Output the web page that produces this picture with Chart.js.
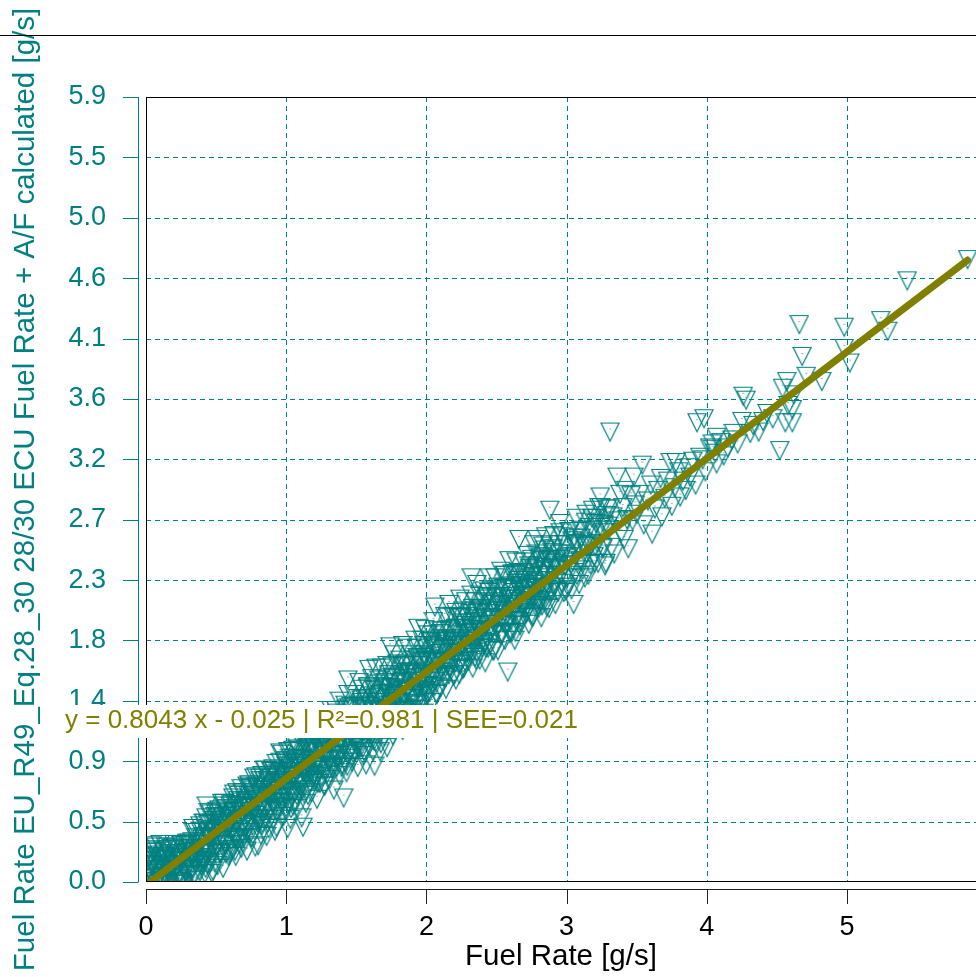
<!DOCTYPE html>
<html>
<head>
<meta charset="utf-8">
<script src="https://cdn.jsdelivr.net/npm/chart.js@4.4.1/dist/chart.umd.min.js"></script>
<style>
  html, body { margin: 0; padding: 0; background: #fff; }
  #wrap { width: 976px; height: 977px; }
</style>
</head>
<body>
<div id="wrap"><canvas id="fuel" width="976" height="977"></canvas></div>
<script>
// Reference fuel rate (x) vs calculated fuel rate (y), in g/s
const lowX = [
  0.00,0.01,0.01,0.02,0.02,0.03,0.03,0.04,0.04,0.05,
  0.05,0.06,0.06,0.07,0.07,0.08,0.09,0.09,0.10,0.10,
  0.11,0.12,0.12,0.13,0.14,0.14,0.15,0.16,0.16,0.17,
  0.18,0.18,0.19,0.20,0.20,0.21,0.22,0.22,0.23,0.24,
  0.25,0.25,0.26,0.27,0.27,0.28,0.29,0.30,0.30,0.31,
  0.32,0.33,0.33,0.34,0.35,0.36,0.37,0.38,0.39,0.40,
  0.005,0.02,0.035,0.05,0.065,0.08,0.095,0.11,0.125,0.14,
  0.155,0.17,0.185,0.20,0.215,0.23,0.245,0.26,0.275,0.29
];
const lowY = [
  0.02,0.18,0.08,0.27,0.12,0.03,0.22,0.15,0.30,0.06,
  0.25,0.11,0.19,0.01,0.29,0.14,0.07,0.23,0.17,0.31,
  0.04,0.26,0.12,0.20,0.09,0.29,0.16,0.02,0.24,0.13,
  0.28,0.06,0.19,0.11,0.31,0.23,0.03,0.15,0.27,0.09,
  0.20,0.30,0.05,0.14,0.25,0.10,0.32,0.18,0.07,0.28,
  0.22,0.13,0.33,0.08,0.26,0.17,0.31,0.11,0.24,0.20,
  0.10,0.21,0.05,0.16,0.26,0.09,0.20,0.13,0.04,0.22,
  0.27,0.11,0.06,0.18,0.24,0.16,0.21,0.02,0.12,0.23
];

const bandX = [
  0.40,0.41,0.41,0.42,0.42,0.43,0.43,0.44,0.44,0.45,0.46,0.46,0.47,0.47,0.48,0.48,0.49,0.49,
  0.50,0.51,0.51,0.52,0.52,0.53,0.53,0.54,0.54,0.55,0.56,0.56,0.57,0.57,0.58,0.58,0.59,0.59,
  0.60,0.61,0.61,0.62,0.62,0.63,0.63,0.64,0.64,0.65,0.66,0.66,0.67,0.67,0.68,0.68,0.69,0.69,
  0.70,0.71,0.71,0.72,0.72,0.73,0.73,0.74,0.74,0.75,0.76,0.76,0.77,0.77,0.78,0.78,0.79,0.79,
  0.80,0.81,0.81,0.82,0.82,0.83,0.83,0.84,0.84,0.85,0.86,0.86,0.87,0.87,0.88,0.88,0.89,0.89,
  0.90,0.91,0.91,0.92,0.92,0.93,0.93,0.94,0.94,0.95,0.96,0.96,0.97,0.97,0.98,0.98,0.99,0.99,
  1.00,1.01,1.01,1.02,1.02,1.03,1.03,1.04,1.04,1.05,1.06,1.06,1.07,1.07,1.08,1.08,1.09,1.09,
  1.10,1.11,1.11,1.12,1.12,1.13,1.13,1.14,1.14,1.15,1.16,1.16,1.17,1.17,1.18,1.18,1.19,1.19,
  1.20,1.21,1.21,1.22,1.22,1.23,1.23,1.24,1.24,1.25,1.26,1.26,1.27,1.27,1.28,1.28,1.29,1.29,
  1.30,1.31,1.31,1.32,1.32,1.33,1.33,1.34,1.34,1.35,1.36,1.36,1.37,1.37,1.38,1.38,1.39,1.39,
  1.40,1.41,1.41,1.42,1.42,1.43,1.43,1.44,1.44,1.45,1.46,1.46,1.47,1.47,1.48,1.48,1.49,1.49,
  1.50,1.51,1.51,1.52,1.52,1.53,1.53,1.54,1.54,1.55,1.56,1.56,1.57,1.57,1.58,1.58,1.59,1.59,
  1.60,1.61,1.61,1.62,1.62,1.63,1.63,1.64,1.64,1.65,1.66,1.66,1.67,1.67,1.68,1.68,1.69,1.69,
  1.70,1.71,1.71,1.72,1.72,1.73,1.73,1.74,1.74,1.75,1.76,1.76,1.77,1.77,1.78,1.78,1.79,1.79,
  1.80,1.81,1.81,1.82,1.82,1.83,1.83,1.84,1.84,1.85,1.86,1.86,1.87,1.87,1.88,1.88,1.89,1.89,
  1.90,1.91,1.91,1.92,1.92,1.93,1.93,1.94,1.94,1.95,1.96,1.96,1.97,1.97,1.98,1.98,1.99,1.99
];
const bandY = [
  0.35,0.19,0.47,0.28,0.09,0.42,0.24,0.46,0.16,0.35,0.54,0.21,0.42,0.09,0.39,0.30,0.52,0.17,
  0.29,0.51,0.15,0.43,0.57,0.25,0.48,0.37,0.62,0.13,0.45,0.32,0.58,0.24,0.50,0.43,0.55,0.22,
  0.60,0.41,0.50,0.27,0.66,0.36,0.56,0.22,0.60,0.48,0.68,0.35,0.56,0.42,0.73,0.28,0.53,0.40,
  0.36,0.62,0.50,0.75,0.26,0.68,0.46,0.59,0.73,0.36,0.68,0.45,0.81,0.56,0.29,0.65,0.74,0.53,
  0.72,0.50,0.81,0.59,0.38,0.70,0.47,0.79,0.57,0.87,0.37,0.68,0.78,0.47,0.72,0.57,0.86,0.67,
  0.63,0.86,0.50,0.77,0.60,0.92,0.44,0.82,0.71,0.87,0.59,0.78,0.67,0.99,0.52,0.83,0.94,0.72,
  0.90,0.75,1.01,0.62,0.86,0.50,0.96,0.71,0.82,0.60,1.08,0.70,0.93,0.78,1.03,0.58,0.88,0.70,
  0.75,0.95,0.51,1.06,0.86,1.12,0.69,0.94,0.62,1.03,0.84,1.11,0.78,0.94,0.70,1.03,1.20,0.89,
  1.00,0.80,1.16,0.91,0.65,1.10,0.87,1.23,0.77,1.01,1.16,0.87,1.09,0.75,1.29,0.98,1.13,0.84,
  0.94,1.22,0.80,1.08,1.32,0.90,1.14,0.72,1.20,1.03,1.30,0.89,1.15,0.98,1.39,0.83,1.10,1.22,
  1.26,1.04,0.66,1.36,0.93,1.22,0.85,1.44,1.12,1.27,1.02,1.35,0.93,1.21,1.12,1.44,1.01,1.27,
  1.06,1.41,0.89,1.27,1.53,1.04,1.33,1.15,1.48,0.98,1.25,1.41,1.14,0.91,1.50,1.23,1.63,1.05,
  1.35,1.13,1.56,1.01,1.31,1.48,1.21,1.64,1.08,1.42,1.28,1.55,1.01,1.38,1.18,1.64,1.33,1.23,
  1.12,1.49,1.30,1.66,1.04,1.45,1.59,1.24,1.80,1.36,1.56,1.13,1.44,1.74,1.24,1.52,1.33,1.67,
  1.47,1.25,1.70,1.38,1.59,1.17,1.81,1.34,1.54,1.67,1.24,1.48,1.79,1.33,1.61,1.46,1.74,1.30,
  1.41,1.70,1.26,1.85,1.59,1.37,1.79,1.50,1.94,1.33,1.68,1.43,1.85,1.58,1.30,1.74,1.51,1.93
];

// second pass over the dense core, between the first set of samples
const coreX = [
  0.305,0.315,0.325,0.335,0.345,0.355,0.365,0.375,0.385,0.395,
  0.405,0.415,0.425,0.435,0.445,0.455,0.465,0.475,0.485,0.495,
  0.505,0.515,0.525,0.535,0.545,0.555,0.565,0.575,0.585,0.595,
  0.605,0.615,0.625,0.635,0.645,0.655,0.665,0.675,0.685,0.695,
  0.705,0.715,0.725,0.735,0.745,0.755,0.765,0.775,0.785,0.795,
  0.805,0.815,0.825,0.835,0.845,0.855,0.865,0.875,0.885,0.895,
  0.905,0.915,0.925,0.935,0.945,0.955,0.965,0.975,0.985,0.995,
  1.005,1.015,1.025,1.035,1.045,1.055,1.065,1.075,1.085,1.095,
  1.105,1.115,1.125,1.135,1.145,1.155,1.165,1.175,1.185,1.195,
  1.205,1.215,1.225,1.235,1.245,1.255,1.265,1.275,1.285,1.295,
  1.305,1.315,1.325,1.335,1.345,1.355,1.365,1.375,1.385,1.395,
  1.405,1.415,1.425,1.435,1.445,1.455,1.465,1.475,1.485,1.495,
  1.505,1.515,1.525,1.535,1.545,1.555,1.565,1.575,1.585,1.595,
  1.605,1.615,1.625,1.635,1.645,1.655,1.665,1.675,1.685,1.695,
  1.705,1.715,1.725,1.735,1.745,1.755,1.765,1.775,1.785,1.795,
  1.805,1.815,1.825,1.835,1.845,1.855,1.865,1.875,1.885,1.895,
  1.905,1.915,1.925,1.935,1.945,1.955,1.965,1.975,1.985,1.995,
  2.005,2.015,2.025,2.035,2.045,2.055,2.065,2.075,2.085,2.095,
  2.105,2.115,2.125,2.135,2.145,2.155,2.165,2.175,2.185,2.195,
  2.205,2.215,2.225,2.235,2.245,2.255,2.265,2.275,2.285,2.295,
  2.305,2.315,2.325,2.335,2.345,2.355,2.365,2.375,2.385,2.395,
  2.405,2.415,2.425,2.435,2.445,2.455,2.465,2.475,2.485,2.495,
  2.505,2.515,2.525,2.535,2.545,2.555,2.565,2.575,2.585,2.595,
  2.605,2.615,2.625,2.635,2.645,2.655,2.665,2.675,2.685,2.695,
  2.705,2.715,2.725,2.735,2.745,2.755,2.765,2.775,2.785,2.795,
  2.805,2.815,2.825,2.835,2.845,2.855,2.865,2.875,2.885,2.895,
  2.905,2.915,2.925,2.935,2.945,2.955,2.965,2.975,2.985,2.995,
  3.005,3.015,3.025,3.035,3.045,3.055,3.065,3.075,3.085,3.095,
  3.105,3.115,3.125,3.135,3.145,3.155,3.165,3.175,3.185,3.195,
  3.205,3.215,3.225,3.235,3.245,3.255,3.265,3.275,3.285,3.295
];
const coreY = [
  0.32,0.08,0.26,0.43,0.19,0.04,0.40,0.28,0.45,0.18,
  0.26,0.47,0.13,0.40,0.55,0.25,0.36,0.11,0.49,0.41,
  0.56,0.31,0.45,0.24,0.52,0.62,0.30,0.52,0.43,0.24,
  0.34,0.50,0.69,0.26,0.46,0.64,0.60,0.36,0.70,0.47,
  0.64,0.40,0.58,0.76,0.51,0.36,0.72,0.59,0.82,0.50,
  0.58,0.79,0.45,0.72,0.87,0.57,0.68,0.43,0.81,0.73,
  0.88,0.63,0.77,0.56,0.85,1.00,0.62,0.84,0.75,0.57,
  0.66,0.82,1.01,0.58,0.79,0.96,0.92,0.68,1.02,0.80,
  0.96,0.72,0.90,1.08,0.84,0.68,1.04,0.91,1.17,0.83,
  0.90,1.11,0.77,1.04,1.20,0.89,1.00,0.75,1.13,1.06,
  1.20,0.95,1.09,0.88,1.17,1.32,0.94,1.16,1.07,0.89,
  0.99,1.14,1.33,0.90,1.11,1.29,1.24,1.00,1.34,1.12,
  1.29,1.04,1.22,1.40,1.16,1.01,1.36,1.23,1.49,1.15,
  1.23,1.43,1.09,1.36,1.52,1.22,1.32,1.07,1.45,1.38,
  1.53,1.27,1.41,1.20,1.49,1.65,1.26,1.48,1.39,1.21,
  1.31,1.46,1.65,1.22,1.43,1.61,1.56,1.32,1.66,1.44,
  1.61,1.37,1.54,1.72,1.48,1.33,1.69,1.55,1.81,1.47,
  1.60,1.81,1.46,1.73,1.89,1.59,1.70,1.44,1.82,1.75,
  1.90,1.65,1.78,1.57,1.86,2.02,1.64,1.85,1.76,1.58,
  1.68,1.84,2.02,1.59,1.80,1.98,1.94,1.69,2.03,1.81,
  1.98,1.74,1.91,2.09,1.85,1.70,2.06,1.92,2.18,1.84,
  1.92,2.13,1.79,2.05,2.21,1.91,2.02,1.77,2.14,2.07,
  2.22,1.97,2.11,1.89,2.18,2.34,1.96,2.18,2.08,1.90,
  2.00,2.16,2.35,1.91,2.12,2.30,2.26,2.02,2.35,2.13,
  2.30,2.06,2.24,2.41,2.17,2.02,2.38,2.25,2.50,2.16,
  2.24,2.45,2.11,2.37,2.53,2.23,2.34,2.09,2.46,2.39,
  2.54,2.29,2.43,2.22,2.50,2.66,2.28,2.50,2.41,2.22,
  2.32,2.48,2.67,2.23,2.44,2.62,2.58,2.34,2.67,2.45,
  2.62,2.38,2.56,2.74,2.50,2.34,2.70,2.57,2.83,2.48,
  2.56,2.77,2.43,2.70,2.85,2.55,2.66,2.41,2.79,2.71
];

// third pass, tight around the trend where the cloud is solid
const denseX = [
  0.108,0.118,0.128,0.138,0.148,0.158,0.168,0.178,0.188,0.198,
  0.208,0.218,0.228,0.238,0.248,0.258,0.268,0.278,0.288,0.298,
  0.308,0.318,0.328,0.338,0.348,0.358,0.368,0.378,0.388,0.398,
  0.408,0.418,0.428,0.438,0.448,0.458,0.468,0.478,0.488,0.498,
  0.508,0.518,0.528,0.538,0.548,0.558,0.568,0.578,0.588,0.598,
  0.608,0.618,0.628,0.638,0.648,0.658,0.668,0.678,0.688,0.698,
  0.708,0.718,0.728,0.738,0.748,0.758,0.768,0.778,0.788,0.798,
  0.808,0.818,0.828,0.838,0.848,0.858,0.868,0.878,0.888,0.898,
  0.908,0.918,0.928,0.938,0.948,0.958,0.968,0.978,0.988,0.998,
  1.008,1.018,1.028,1.038,1.048,1.058,1.068,1.078,1.088,1.098,
  1.108,1.118,1.128,1.138,1.148,1.158,1.168,1.178,1.188,1.198,
  1.208,1.218,1.228,1.238,1.248,1.258,1.268,1.278,1.288,1.298,
  1.308,1.318,1.328,1.338,1.348,1.358,1.368,1.378,1.388,1.398,
  1.408,1.418,1.428,1.438,1.448,1.458,1.468,1.478,1.488,1.498,
  1.508,1.518,1.528,1.538,1.548,1.558,1.568,1.578,1.588,1.598,
  1.608,1.618,1.628,1.638,1.648,1.658,1.668,1.678,1.688,1.698,
  1.708,1.718,1.728,1.738,1.748,1.758,1.768,1.778,1.788,1.798,
  1.808,1.818,1.828,1.838,1.848,1.858,1.868,1.878,1.888,1.898,
  1.908,1.918,1.928,1.938,1.948,1.958,1.968,1.978,1.988,1.998,
  2.008,2.018,2.028,2.038,2.048,2.058,2.068,2.078,2.088,2.098,
  2.108,2.118,2.128,2.138,2.148,2.158,2.168,2.178,2.188,2.198,
  2.208,2.218,2.228,2.238,2.248,2.258,2.268,2.278,2.288,2.298,
  2.308,2.318,2.328,2.338,2.348,2.358,2.368,2.378,2.388,2.398,
  2.408,2.418,2.428,2.438,2.448,2.458,2.468,2.478,2.488,2.498,
  2.508,2.518,2.528,2.538,2.548,2.558,2.568,2.578,2.588,2.598,
  2.608,2.618,2.628,2.638,2.648,2.658,2.668,2.678,2.688,2.698,
  2.708,2.718,2.728,2.738,2.748,2.758,2.768,2.778,2.788,2.798,
  2.808,2.818,2.828,2.838,2.848,2.858,2.868,2.878,2.888,2.898
];
const denseY = [
  0.05,0.20,0.02,0.15,0.03,0.27,0.08,0.21,0.14,0.01,
  0.29,0.10,0.24,0.03,0.31,0.19,0.01,0.30,0.11,0.25,
  0.12,0.28,0.21,0.40,0.08,0.36,0.27,0.21,0.41,0.15,
  0.37,0.18,0.51,0.27,0.37,0.17,0.47,0.35,0.26,0.54,
  0.36,0.52,0.24,0.47,0.34,0.60,0.31,0.53,0.47,0.27,
  0.61,0.42,0.56,0.35,0.70,0.49,0.31,0.63,0.44,0.58,
  0.44,0.60,0.53,0.74,0.40,0.68,0.60,0.53,0.75,0.47,
  0.70,0.50,0.83,0.59,0.69,0.50,0.79,0.67,0.58,0.86,
  0.69,0.84,0.56,0.79,0.66,0.93,0.63,0.85,0.79,0.59,
  0.94,0.74,0.88,0.67,1.02,0.82,0.63,0.95,0.76,0.90,
  0.77,0.92,0.85,1.06,0.72,1.01,0.92,0.85,1.07,0.79,
  1.02,0.82,1.15,0.91,1.01,0.82,1.11,0.99,0.90,1.18,
  1.01,1.17,0.88,1.11,0.98,1.25,0.96,1.17,1.11,0.91,
  1.26,1.07,1.20,0.99,1.34,1.14,0.96,1.27,1.08,1.22,
  1.09,1.25,1.17,1.38,1.04,1.33,1.25,1.17,1.39,1.11,
  1.34,1.15,1.47,1.23,1.33,1.14,1.44,1.31,1.22,1.50,
  1.33,1.49,1.20,1.43,1.30,1.57,1.28,1.49,1.43,1.23,
  1.58,1.39,1.53,1.31,1.66,1.46,1.28,1.60,1.40,1.54,
  1.41,1.57,1.49,1.71,1.36,1.66,1.57,1.50,1.72,1.43,
  1.70,1.51,1.84,1.59,1.69,1.50,1.80,1.68,1.58,1.86,
  1.69,1.85,1.57,1.79,1.66,1.93,1.64,1.86,1.79,1.59,
  1.94,1.75,1.89,1.67,2.02,1.82,1.64,1.96,1.76,1.90,
  1.77,1.93,1.86,2.07,1.72,2.01,1.93,1.86,2.08,1.79,
  2.02,1.83,2.16,1.92,2.01,1.82,2.12,2.00,1.91,2.18,
  2.01,2.17,1.89,2.12,1.98,2.25,1.96,2.18,2.12,1.91,
  2.26,2.07,2.21,2.00,2.34,2.14,1.96,2.28,2.09,2.22,
  2.09,2.25,2.18,2.39,2.04,2.33,2.25,2.18,2.40,2.11,
  2.34,2.15,2.48,2.24,2.34,2.14,2.44,2.32,2.23,2.51
];

const midX = [
  2.00,2.01,2.01,2.02,2.03,2.04,2.04,2.05,2.06,2.06,2.07,2.08,2.09,2.09,
  2.10,2.11,2.11,2.12,2.13,2.14,2.14,2.15,2.16,2.16,2.17,2.18,2.19,2.19,
  2.20,2.21,2.21,2.22,2.23,2.24,2.24,2.25,2.26,2.26,2.27,2.28,2.29,2.29,
  2.30,2.31,2.31,2.32,2.33,2.34,2.34,2.35,2.36,2.36,2.37,2.38,2.39,2.39,
  2.40,2.41,2.41,2.42,2.43,2.44,2.44,2.45,2.46,2.46,2.47,2.48,2.49,2.49,
  2.50,2.51,2.51,2.52,2.53,2.54,2.54,2.55,2.56,2.56,2.57,2.58,2.59,2.59,
  2.60,2.61,2.61,2.62,2.63,2.64,2.64,2.65,2.66,2.66,2.67,2.68,2.69,2.69,
  2.70,2.71,2.71,2.72,2.73,2.74,2.74,2.75,2.76,2.76,2.77,2.78,2.79,2.79,
  2.80,2.81,2.81,2.82,2.83,2.84,2.84,2.85,2.86,2.86,2.87,2.88,2.89,2.89,
  2.90,2.91,2.91,2.92,2.93,2.94,2.94,2.95,2.96,2.96,2.97,2.98,2.99,2.99
];
const midY = [
  1.70,1.45,1.89,1.58,1.83,1.38,1.68,1.99,1.54,1.79,1.45,1.92,1.67,1.61,
  1.49,1.92,1.71,1.61,2.03,1.48,1.84,1.70,2.12,1.59,1.92,1.70,2.03,1.83,
  1.81,1.55,2.06,1.94,1.67,2.16,1.76,2.02,2.07,1.63,1.91,2.14,1.75,1.84,
  1.69,2.05,1.88,2.19,1.64,1.99,1.82,2.14,1.76,2.27,1.96,1.70,2.09,1.91,
  2.07,1.83,2.22,1.68,1.97,2.17,1.79,2.32,2.05,1.92,2.23,1.77,2.12,2.32,
  1.94,2.25,1.77,2.12,2.37,1.90,2.07,2.24,1.85,2.34,2.04,1.97,2.23,2.45,
  2.16,1.91,2.35,2.10,1.85,2.28,2.44,2.04,2.23,2.36,1.99,2.19,2.44,2.12,
  2.36,2.05,2.19,2.49,1.97,2.32,2.15,2.46,2.27,2.03,2.57,2.22,2.41,2.13,
  2.09,2.47,2.30,2.02,2.56,2.38,2.21,2.63,2.10,2.45,2.30,2.57,2.21,2.40,
  2.46,2.25,2.64,2.12,2.38,2.57,2.21,2.73,2.46,2.34,2.63,2.21,2.57,2.41
];

const upperX = [
  3.00,3.01,3.02,3.03,3.04,3.06,3.07,3.08,3.09,
  3.10,3.11,3.12,3.13,3.14,3.16,3.17,3.18,3.19,
  3.20,3.21,3.22,3.23,3.24,3.26,3.27,3.28,3.29,
  3.30,3.31,3.32,3.33,3.34,3.36,3.37,3.38,3.39,
  3.40,3.41,3.42,3.43,3.44,3.46,3.47,3.48,3.49
];
const upperY = [
  2.47,2.25,2.67,2.42,2.60,2.36,2.77,2.57,2.27,
  2.68,2.44,2.59,2.32,2.80,2.56,2.42,2.77,2.68,
  2.43,2.73,2.58,2.85,2.93,2.54,2.72,2.43,2.84,
  2.68,2.84,2.55,2.78,2.50,3.08,2.75,2.95,2.66,
  2.85,2.61,2.98,2.76,2.54,2.94,2.75,3.08,2.87
];

const highX = [
  3.50,3.52,3.54,3.55,3.58,3.60,3.61,3.63,3.65,3.67,
  3.68,3.70,3.72,3.74,3.75,3.77,3.78,3.80,3.81,3.83,
  3.85,3.87,3.88,3.90,3.92,3.93,3.95,3.97,3.98,3.99,
  4.02,4.04,4.04,4.06,4.07,4.07,4.10,4.12,4.15,4.18,
  4.19,4.22,4.25,4.26,4.28,4.31,4.33,4.37,4.40,4.43,
  4.47,4.52,4.54,4.56,4.57,4.58,4.61,4.61,4.62,4.66,
  4.68,4.71,4.82,4.98,4.98,5.02,5.24,5.29,5.43,5.86
];
const highY = [
  2.80,2.95,3.17,2.72,2.90,3.02,2.65,2.84,2.98,3.07,
  2.78,2.92,3.05,3.19,2.86,3.00,3.19,3.12,2.93,3.05,
  2.98,3.15,3.08,3.20,3.02,3.49,3.23,3.21,3.52,3.12,
  3.30,3.29,3.33,3.26,3.38,3.18,3.34,3.24,3.30,3.36,
  3.41,3.33,3.50,3.69,3.66,3.41,3.47,3.42,3.50,3.56,
  3.52,3.28,3.75,3.49,3.80,3.62,3.59,3.49,3.70,4.23,
  3.99,3.84,3.80,4.21,4.05,3.94,4.26,4.18,4.56,4.72
];

const strayX = [0.43,1.44,1.01,1.12,1.63,0.80,0.92,2.58,3.05,2.32,2.66,2.79,2.88,2.06,3.31];
const strayY = [0.60,1.55,0.43,0.44,0.90,0.30,0.41,1.61,2.12,2.32,2.61,2.61,2.83,2.10,3.42];

// least squares line end points
const fitX = [0.03, 5.86];
const fitY = [0.00, 4.69];
const fitLabel = "y = 0.8043 x - 0.025 | R\u00b2=0.981 | SEE=0.021";

const xTicks = [0, 1, 2, 3, 4, 5];
const yTickValues = [0, 0.455, 0.911, 1.366, 1.822, 2.277, 2.732, 3.188, 3.643, 4.098, 4.554, 5.009, 5.465, 5.92];
const yTickLabels = ["0.0", "0.5", "0.9", "1.4", "1.8", "2.3", "2.7", "3.2", "3.6", "4.1", "4.6", "5.0", "5.5", "5.9"];
const X_MAX = 5.92;
const Y_MAX = 5.92;

const TEAL = "#008080";
const OLIVE = "#808000";
const FONT = "'Liberation Sans', Arial, sans-serif";

function pairs(xs, ys) {
    return xs.map((x, i) => ({ x: x, y: ys[i] }));
}

const scatterData = [].concat(
    pairs(lowX, lowY),
    pairs(bandX, bandY),
    pairs(coreX, coreY),
    pairs(denseX, denseY),
    pairs(midX, midY),
    pairs(upperX, upperY),
    pairs(highX, highY),
    pairs(strayX, strayY)
);

// hollow down triangle, data point at its centroid, with a dot in the middle
function makeMarker() {
    const c = document.createElement("canvas");
    c.width = 20;
    c.height = 38;
    const g = c.getContext("2d");
    g.strokeStyle = TEAL;
    g.lineWidth = 1.2;
    g.beginPath();
    g.moveTo(1, 13.5);
    g.lineTo(19, 13.5);
    g.lineTo(10, 31.5);
    g.closePath();
    g.stroke();
    g.fillStyle = TEAL;
    g.fillRect(9.5, 19, 1, 1);
    return c;
}

const frame = {
    id: "frame",
    beforeDatasetsDraw(chart) {
        const { ctx, chartArea: a, scales } = chart;
        ctx.save();
        ctx.strokeStyle = TEAL;
        ctx.lineWidth = 1;
        ctx.setLineDash([5, 4]);
        ctx.beginPath();
        scales.x.ticks.forEach(t => {
            if (t.value === 0) return;
            const px = Math.round(scales.x.getPixelForValue(t.value)) + 0.5;
            ctx.moveTo(px, a.top);
            ctx.lineTo(px, a.bottom);
        });
        scales.y.ticks.forEach((t, i) => {
            if (i === 0 || i === scales.y.ticks.length - 1) return;
            const py = Math.round(scales.y.getPixelForValue(t.value)) + 0.5;
            ctx.moveTo(a.left, py);
            ctx.lineTo(a.right, py);
        });
        ctx.stroke();
        ctx.restore();
    },
    afterDraw(chart) {
        const { ctx, chartArea: a, scales } = chart;
        ctx.save();
        ctx.lineWidth = 1;

        // plot box
        ctx.strokeStyle = "#000";
        ctx.strokeRect(a.left + 0.5, a.top + 0.5, a.right - a.left, a.bottom - a.top - 1);

        // rule under the empty title area
        ctx.beginPath();
        ctx.moveTo(0, 35.5);
        ctx.lineTo(chart.width, 35.5);
        ctx.stroke();

        // detached y axis
        ctx.strokeStyle = TEAL;
        ctx.beginPath();
        const ax = a.left - 7.5;
        ctx.moveTo(ax, a.top);
        ctx.lineTo(ax, a.bottom);
        scales.y.ticks.forEach(t => {
            const py = Math.round(scales.y.getPixelForValue(t.value)) + 0.5;
            ctx.moveTo(a.left - 23, py);
            ctx.lineTo(ax, py);
        });
        ctx.stroke();

        // detached x axis
        ctx.strokeStyle = "#222";
        ctx.beginPath();
        const ay = a.bottom + 7.5;
        ctx.moveTo(a.left, ay);
        ctx.lineTo(a.right, ay);
        scales.x.ticks.forEach(t => {
            const px = Math.round(scales.x.getPixelForValue(t.value)) + 0.5;
            ctx.moveTo(px, ay);
            ctx.lineTo(px, a.bottom + 22);
        });
        ctx.stroke();

        // fit equation
        ctx.font = "26px " + FONT;
        const w = ctx.measureText(fitLabel).width;
        ctx.fillStyle = "#fff";
        ctx.fillRect(62, 705, w + 6, 33);
        ctx.fillStyle = OLIVE;
        ctx.textBaseline = "middle";
        ctx.fillText(fitLabel, 65, 721);
        ctx.restore();
    }
};

document.addEventListener("DOMContentLoaded", () => {
    const ctx = document.getElementById("fuel").getContext("2d");
    const marker = makeMarker();

    new Chart(ctx, {
        type: "scatter",
        data: {
            datasets: [
                {
                    type: "line",
                    data: pairs(fitX, fitY),
                    borderColor: OLIVE,
                    borderWidth: 7,
                    borderCapStyle: "round",
                    pointRadius: 0,
                    order: 0,
                },
                {
                    data: scatterData,
                    pointStyle: marker,
                    pointRadius: 9,
                    clip: 0,
                    order: 1,
                },
            ],
        },
        options: {
            responsive: false,
            animation: false,
            devicePixelRatio: 1,
            layout: { autoPadding: false, padding: { top: 97, left: 0, right: 0, bottom: 0 } },
            plugins: {
                legend: { display: false },
                tooltip: { enabled: false },
            },
            scales: {
                x: {
                    type: "linear",
                    min: 0,
                    max: X_MAX,
                    afterFit: s => {
                        s.height = 95;
                        s.paddingLeft = 0;
                        s.paddingRight = 0;
                    },
                    afterBuildTicks: s => { s.ticks = xTicks.map(v => ({ value: v })); },
                    grid: { display: false },
                    border: { display: false },
                    ticks: {
                        color: "#000",
                        font: { family: FONT, size: 27 },
                        padding: 21,
                        maxRotation: 0,
                        autoSkip: false,
                    },
                    title: {
                        display: true,
                        text: "Fuel Rate [g/s]",
                        color: "#000",
                        font: { family: FONT, size: 29.5 },
                        padding: { top: 0, bottom: 2 },
                    },
                },
                y: {
                    type: "linear",
                    min: 0,
                    max: Y_MAX,
                    afterFit: s => {
                        s.width = 146;
                        s.paddingTop = 0;
                        s.paddingBottom = 0;
                    },
                    afterBuildTicks: s => { s.ticks = yTickValues.map(v => ({ value: v })); },
                    grid: { display: false },
                    border: { display: false },
                    ticks: {
                        color: TEAL,
                        font: { family: FONT, size: 27 },
                        padding: 32,
                        autoSkip: false,
                        callback: (v, i) => yTickLabels[i],
                    },
                    title: {
                        display: true,
                        text: "Fuel Rate EU_R49_Eq.28_30 28/30 ECU Fuel Rate + A/F calculated [g/s]",
                        color: TEAL,
                        font: { family: FONT, size: 29.5 },
                        padding: { top: 8, bottom: 0 },
                    },
                },
            },
        },
        plugins: [frame],
    });
});
</script>
</body>
</html>
